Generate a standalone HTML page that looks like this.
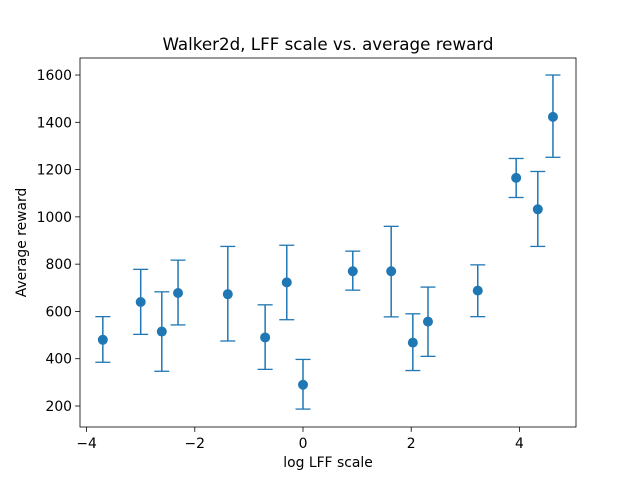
<!DOCTYPE html>
<html><head><meta charset="utf-8"><style>
body{margin:0;background:#fff;}
svg{display:block;font-family:"DejaVu Sans","Liberation Sans",sans-serif;}
</style></head><body>
<svg id="chart" width="640" height="480"></svg>
<script>
const xs=[-3.70,-3.00,-2.61,-2.31,-1.39,-0.70,-0.30,0.00,0.92,1.63,2.03,2.31,3.23,3.94,4.34,4.62];
const means=[480,640,515,678,673,490,723,290,770,770,468,557,688,1165,1032,1423];
const lows=[385,503,347,543,475,355,565,187,690,577,350,410,578,1082,875,1252];
const highs=[578,778,683,817,875,628,880,397,855,960,590,703,797,1247,1192,1600];
const xTicks=[-4,-2,0,2,4];
const yTicks=[200,400,600,800,1000,1200,1400,1600];
const L=80,R=576,T=58,B=427;
const xMin=-4.122,xMax=5.046,yMin=111.2,yMax=1672;
const sx=v=>L+(v-xMin)/(xMax-xMin)*(R-L);
const sy=v=>B-(v-yMin)/(yMax-yMin)*(B-T);
const svg=document.getElementById('chart');
const NS='http://www.w3.org/2000/svg';
function mk(tag,attrs,parent){const e=document.createElementNS(NS,tag);for(const k in attrs)e.setAttribute(k,attrs[k]);(parent||svg).appendChild(e);return e;}
const c='#1f77b4';
xs.forEach((x,i)=>{
  const g=mk('g',{});
  
  
  const px=sx(x);
  mk('line',{x1:px,x2:px,y1:sy(lows[i]),y2:sy(highs[i]),stroke:c,'stroke-width':1.5},g);
  mk('line',{x1:px-7.5,x2:px+7.5,y1:sy(lows[i]),y2:sy(lows[i]),stroke:c,'stroke-width':1.3},g);
  mk('line',{x1:px-7.5,x2:px+7.5,y1:sy(highs[i]),y2:sy(highs[i]),stroke:c,'stroke-width':1.3},g);
  mk('circle',{cx:px,cy:sy(means[i]),r:5,fill:c},g);
});
const frame=mk('rect',{x:L,y:T,width:R-L,height:B-T,fill:'none',stroke:'#000','stroke-width':0.8});


xTicks.forEach(t=>{const p=sx(t);
  mk('line',{x1:p,x2:p,y1:B,y2:B+4.9,stroke:'#000','stroke-width':0.8});
  const tx=mk('text',{x:p,y:B+21,'font-size':13.9,'text-anchor':'middle'});tx.textContent=(t<0?'\u2212'+(-t):t);
  
  
});
yTicks.forEach(t=>{const p=sy(t);
  mk('line',{x1:L,x2:L-4.9,y1:p,y2:p,stroke:'#000','stroke-width':0.8});
  const tx=mk('text',{x:L-8,y:p+5,'font-size':13.9,'text-anchor':'end'});tx.textContent=t;
  
  
});
const title=mk('text',{x:(L+R)/2,y:50,'font-size':16.7,'text-anchor':'middle'});title.textContent='Walker2d, LFF scale vs. average reward';


const xl=mk('text',{x:(L+R)/2,y:467,'font-size':13.9,'text-anchor':'middle'});xl.textContent='log LFF scale';


const yl=mk('text',{x:0,y:0,'font-size':13.9,'text-anchor':'middle',transform:'translate(26,'+((T+B)/2)+') rotate(-90)'});yl.textContent='Average reward';


</script>
</body></html>
